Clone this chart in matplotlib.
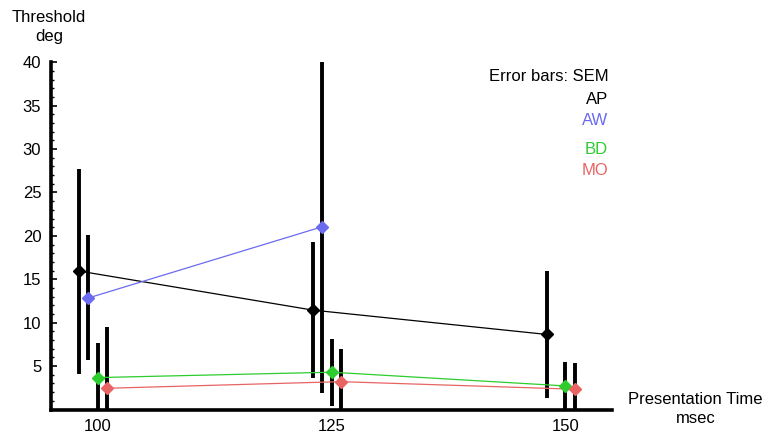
import matplotlib
matplotlib.use("Agg")
import matplotlib.pyplot as plt
import numpy as np

plt.rcParams['font.family'] = ['Liberation Sans', 'DejaVu Sans']

# presentation times (msec); each subject is shifted a little so the bars don't overlap
times = [100, 125, 150]
subjects = ["AP", "AW", "BD", "MO"]
offsets = [-2, -1, 0, 1]
colors = ["black", "#6b6bef", "#2ecc2e", "#e86464"]

# thresholds (deg) and SEM per subject; AW has no 150 msec point
thr_ap = [15.95, 11.45, 8.65]
sem_ap = [11.8, 7.85, 7.35]
thr_aw = [12.85, 21.05]
sem_aw = [7.2, 19.1]
thr_bd = [3.68, 4.3, 2.72]
sem_bd = [3.96, 3.85, 2.8]
thr_mo = [2.45, 3.21, 2.34]
sem_mo = [7.0, 3.74, 3.0]

thresholds = [thr_ap, thr_aw, thr_bd, thr_mo]
sems = [sem_ap, sem_aw, sem_bd, sem_mo]

fig = plt.figure(figsize=(7.67, 4.32), dpi=100)
ax = fig.add_axes([0.0665, 0.052, 0.7315, 0.804])

for name, off, col, thr, sem in zip(subjects, offsets, colors, thresholds, sems):
    x = np.array(times[:len(thr)]) + off
    ax.errorbar(x, thr, yerr=sem, fmt='none', ecolor='black', elinewidth=2.8,
                capsize=0, zorder=2)
    ax.plot(x, thr, color=col, lw=0.9, zorder=3)
    ax.plot(x, thr, 'D', color=col, ms=6, mec=col, zorder=4)

ax.set_xlim(95, 155)
ax.set_ylim(0, 40)
for s in ['top', 'right']:
    ax.spines[s].set_visible(False)
for s in ['left', 'bottom']:
    ax.spines[s].set_linewidth(2.6)

ax.set_xticks(times)
ax.set_yticks(np.arange(5, 41, 5))
ax.set_yticks(np.arange(1, 41, 1), minor=True)
ax.tick_params(axis='y', which='major', direction='in', length=4, width=1.2,
               labelsize=12, pad=7)
ax.tick_params(axis='y', which='minor', direction='in', length=2, width=1)
ax.tick_params(axis='x', which='major', length=0, labelsize=12, pad=7)

fig.text(0.064, 0.938, "Threshold\ndeg", ha='center', va='center', fontsize=12,
         linespacing=1.35)
fig.text(0.907, 0.053, "Presentation Time\nmsec", ha='center', va='center',
         fontsize=12, linespacing=1.35)

# legend as plain coloured labels
fig.text(0.793, 0.824, "Error bars: SEM", ha='right', va='center', fontsize=12)
leg_y = [0.769, 0.720, 0.655, 0.606]
for name, col, yy in zip(subjects, colors, leg_y):
    fig.text(0.793, yy, name, ha='right', va='center', fontsize=12, color=col)

fig.savefig("out.png", dpi=100)
